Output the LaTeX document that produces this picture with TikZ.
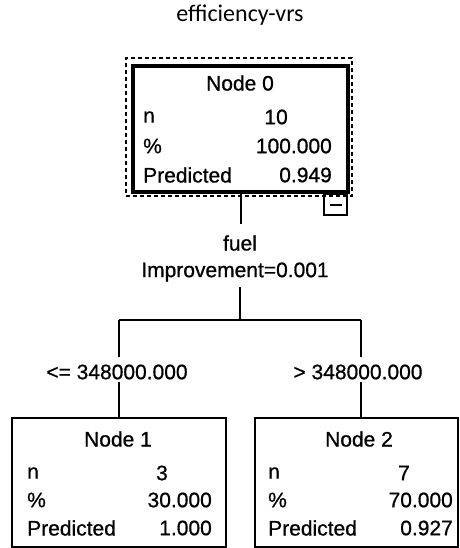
\documentclass[tikz,border=0pt]{standalone}
\usepackage{fontspec}
\setmainfont{Liberation Sans}[UprightFeatures={FakeBold=0.8}]
\newfontfamily\titlefont{Carlito}
\begin{document}
\begin{tikzpicture}[x=1pt,y=-1pt,
  txt/.style={inner sep=0pt,font=\fontsize{21}{24}\selectfont},
  lbl/.style={txt,anchor=west},
  val/.style={txt,anchor=east},
  box/.style={draw,line width=2pt,inner sep=0pt},
  conn/.style={line width=2pt}]
\useasboundingbox (0,0) rectangle (459,548);
\node[inner sep=0pt,font=\titlefont\fontsize{24}{27}\selectfont] (title) at (240,15) {efficiency-vrs};
% Node 0
\node[draw,dashed,line width=1.6pt,dash pattern=on 4pt off 3pt,minimum width=226pt,minimum height=138pt,inner sep=0pt] (sel) at (239,127) {};
\node[box,line width=3.5pt,minimum width=215pt,minimum height=126pt] (n0) at (240.5,129) {};
\node[box,line width=1.5pt,minimum width=23pt,minimum height=21pt] (mb) at (335.5,204.5) {};
\draw[line width=2pt] ([xshift=-6pt]mb.center) -- ([xshift=6pt]mb.center);
\node[txt] (n0t) at (240,83) {Node 0};
\node[lbl] (n0a) at (143,117) {n};
\node[lbl] (n0b) at (143,146) {\%};
\node[lbl] (n0c) at (143,175) {Predicted};
\node[val] (n0av) at (288,117) {10};
\node[val] (n0bv) at (332,146) {100.000};
\node[val] (n0cv) at (332,175) {0.949};
% split labels
\node[txt] (fuel) at (240,243) {fuel};
\node[txt] (imp) at (235,272) {Improvement=0.001};
\coordinate (fuelTop) at (241,224);
\coordinate (impBot) at (240,287);
\coordinate (hl) at (119,320);
\coordinate (hm) at (240,320);
\coordinate (hr) at (361,320);
\node[txt] (c1) at (117,372) {<= 348000.000};
\node[txt] (c2) at (358,372) {> 348000.000};
% child nodes
\node[box,minimum width=214pt,minimum height=129pt] (n1) at (119,482.5) {};
\node[box,minimum width=203pt,minimum height=129pt] (n2) at (356.5,482.5) {};
\node[txt] (n1t) at (118,439) {Node 1};
\node[lbl] (n1a) at (27,473) {n};
\node[lbl] (n1b) at (27,500) {\%};
\node[lbl] (n1c) at (27,528) {Predicted};
\node[val] (n1av) at (168,473) {3};
\node[val] (n1bv) at (212,500) {30.000};
\node[val] (n1cv) at (212,528) {1.000};
\node[txt] (n2t) at (359,439) {Node 2};
\node[lbl] (n2a) at (268,473) {n};
\node[lbl] (n2b) at (268,500) {\%};
\node[lbl] (n2c) at (268,528) {Predicted};
\node[val] (n2av) at (410,473) {7};
\node[val] (n2bv) at (453,500) {70.000};
\node[val] (n2cv) at (453,528) {0.927};
% connectors
\draw[conn] (n0.south -| fuelTop) -- (fuelTop);
\draw[conn] (impBot) -- (hm);
\draw[conn] (hl) -- (hr);
\draw[conn] (hl) -- ++(0,37);
\draw[conn] (hr) -- ++(0,37);
\draw[conn] (c1.south -| hl) ++(0,2) -- (n1.north -| hl);
\draw[conn] (c2.south -| hr) ++(0,2) -- (n2.north -| hr);
\end{tikzpicture}
\end{document}
